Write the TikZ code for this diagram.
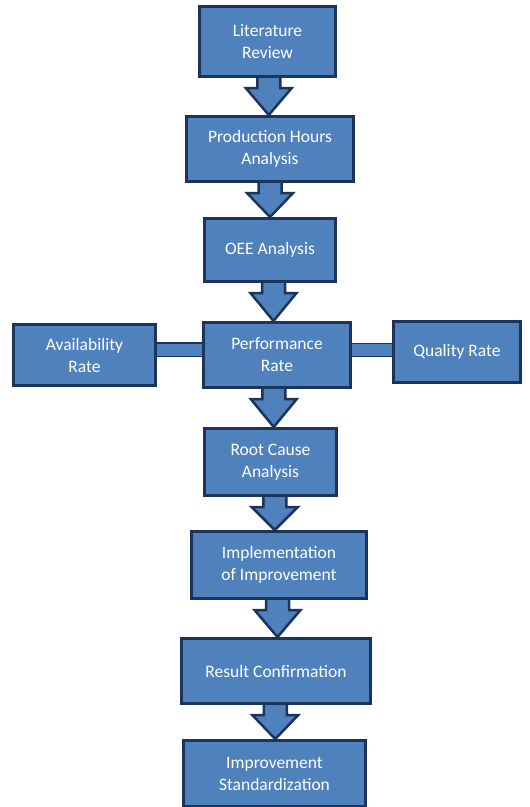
\documentclass[tikz,border=0pt]{standalone}
\usepackage{fontspec}
\setmainfont{Carlito}
\usetikzlibrary{calc}
\definecolor{boxfill}{RGB}{79,129,189}
\definecolor{boxline}{RGB}{28,52,92}
\tikzset{
  flowbox/.style={draw=boxline, fill=boxfill, line width=3pt, text=white,
    align=center, inner sep=0pt, font=\fontsize{17.5}{22}\selectfont},
  blockarrow/.style={draw=boxline, fill=boxfill, line width=2.5pt, line join=miter},
  linkbar/.style={draw=boxline, fill=boxfill, line width=2.5pt}
}
\newcommand\flowarrow[2]{%
  \path[blockarrow] let \p1=(#1.south), \p2=(#2.north), \n1={(\x1+\x2)/2} in
    (\n1-11.5pt,\y1) -- (\n1-11.5pt,\y1-10pt) -- (\n1-23pt,\y1-10pt) -- (\n1,\y2)
    -- (\n1+23pt,\y1-10pt) -- (\n1+11.5pt,\y1-10pt) -- (\n1+11.5pt,\y1);}
\begin{document}
\begin{tikzpicture}[x=1pt,y=-1pt]
\useasboundingbox (0,0) rectangle (530,807);
\node[flowbox, minimum width=136pt, minimum height=70pt] (lit) at (267.5,41.5) {Literature\\Review};
\node[flowbox, minimum width=167pt, minimum height=65pt] (prod) at (270,149) {Production Hours\\Analysis};
\node[flowbox, minimum width=131pt, minimum height=63pt] (oee) at (270,250) {OEE Analysis};
\node[flowbox, minimum width=147pt, minimum height=65pt] (perf) at (277,355) {Performance\\Rate};
\node[flowbox, minimum width=142pt, minimum height=61pt] (avail) at (84.5,355) {Availability\\Rate};
\node[flowbox, minimum width=127pt, minimum height=61pt] (qual) at (457,352) {Quality Rate};
\node[flowbox, minimum width=132pt, minimum height=67pt] (root) at (270.5,462) {Root Cause\\Analysis};
\node[flowbox, minimum width=175pt, minimum height=67pt] (impl) at (279,565) {Implementation\\of Improvement};
\node[flowbox, minimum width=189pt, minimum height=65pt] (res) at (276,671) {Result Confirmation};
\node[flowbox, minimum width=182pt, minimum height=66pt] (std) at (274.5,773.5) {Improvement\\Standardization};
\flowarrow{lit}{prod}
\flowarrow{prod}{oee}
\flowarrow{oee}{perf}
\flowarrow{perf}{root}
\flowarrow{root}{impl}
\flowarrow{impl}{res}
\flowarrow{res}{std}
\path[linkbar] let \p1=(avail.east), \p2=(perf.west) in
  (\x1,\y1-0.5pt) -- (\x2,\y1-0.5pt) (\x2,\y1+11.5pt) -- (\x1,\y1+11.5pt);
\fill[boxfill] let \p1=(avail.east), \p2=(perf.west) in (\x1,\y1-0.5pt) rectangle (\x2,\y1+11.5pt);
\path[linkbar] let \p1=(perf.east), \p2=(qual.west) in
  (\x1,\y1-1pt) -- (\x2,\y1-1pt) (\x2,\y1+11pt) -- (\x1,\y1+11pt);
\fill[boxfill] let \p1=(perf.east), \p2=(qual.west) in (\x1,\y1-1pt) rectangle (\x2,\y1+11pt);
\end{tikzpicture}
\end{document}
